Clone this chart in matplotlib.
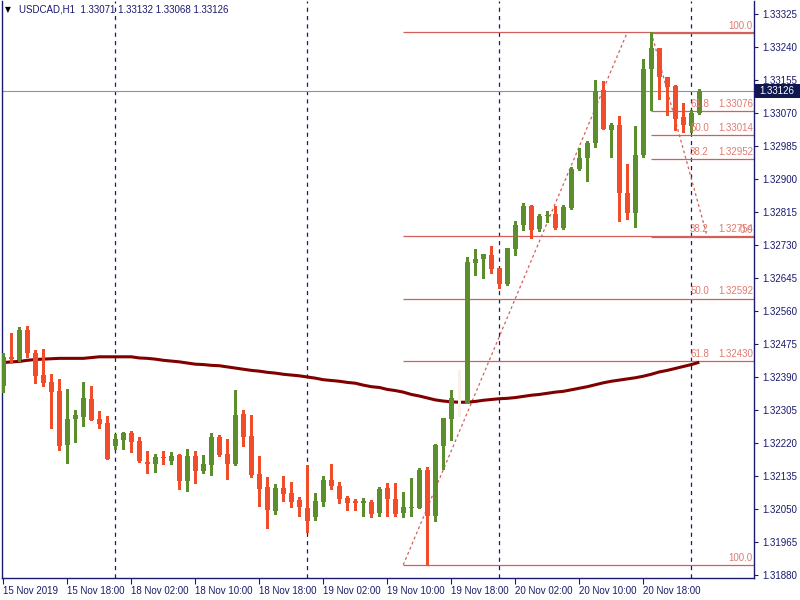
import matplotlib
matplotlib.use('Agg')
import matplotlib.pyplot as plt
from matplotlib.patches import Rectangle

plt.rcParams['font.family'] = ['Liberation Sans', 'DejaVu Sans']
plt.rcParams['lines.scale_dashes'] = False

# ---------------- data (USDCAD H1, 15 Nov 10:00 -> 21 Nov 01:00) ----------------
opens = [1.32368, 1.32441, 1.32434, 1.32511, 1.32451, 1.32395, 1.32377, 1.32354, 1.32215, 1.32282,
         1.32288, 1.32333, 1.32282, 1.32272, 1.32213, 1.32228, 1.32246, 1.32225, 1.32171, 1.32167,
         1.32184, 1.32174, 1.32189, 1.32123, 1.32186, 1.32149, 1.32164, 1.32235, 1.32192, 1.32167,
         1.32295, 1.32238, 1.32140, 1.32107, 1.32045, 1.32104, 1.32091, 1.32073, 1.32052, 1.32030,
         1.32069, 1.32125, 1.32109, 1.32078, 1.32070, 1.32066, 1.32068, 1.32040, 1.32104, 1.32076,
         1.32040, 1.32053, 1.32053, 1.32150, 1.32033, 1.32213, 1.32282, 1.32336, 1.32324, 1.32684,
         1.32694, 1.32704, 1.32671, 1.32630, 1.32720, 1.32781, 1.32830, 1.32771, 1.32805, 1.32810,
         1.32774, 1.32826, 1.32925, 1.32953, 1.32992, 1.33129, 1.33027, 1.33038, 1.32865, 1.32813,
         1.32962, 1.33183, 1.33237, 1.33163, 1.33140, 1.33060, 1.33037, 1.33071]
highs = [1.32451, 1.32504, 1.32520, 1.32521, 1.32460, 1.32462, 1.32398, 1.32384, 1.32359, 1.32305,
         1.32377, 1.32367, 1.32302, 1.32290, 1.32242, 1.32249, 1.32251, 1.32235, 1.32199, 1.32191,
         1.32199, 1.32196, 1.32191, 1.32204, 1.32199, 1.32189, 1.32246, 1.32240, 1.32230, 1.32356,
         1.32305, 1.32292, 1.32186, 1.32132, 1.32114, 1.32135, 1.32119, 1.32081, 1.32163, 1.32091,
         1.32135, 1.32166, 1.32119, 1.32083, 1.32076, 1.32078, 1.32073, 1.32107, 1.32117, 1.32117,
         1.32094, 1.32130, 1.32155, 1.32158, 1.32217, 1.32285, 1.32356, 1.32408, 1.32698, 1.32720,
         1.32708, 1.32727, 1.32672, 1.32723, 1.32792, 1.32839, 1.32833, 1.32810, 1.32818, 1.32830,
         1.32833, 1.32932, 1.32979, 1.32999, 1.33155, 1.33152, 1.33045, 1.33062, 1.32939, 1.33036,
         1.33208, 1.33278, 1.33238, 1.33164, 1.33141, 1.33096, 1.33078, 1.33132]
lows = [1.32352, 1.32425, 1.32432, 1.32441, 1.32375, 1.32368, 1.32259, 1.32202, 1.32169, 1.32222,
        1.32264, 1.32278, 1.32258, 1.32178, 1.32205, 1.32205, 1.32198, 1.32172, 1.32143, 1.32146,
        1.32167, 1.32167, 1.32102, 1.32097, 1.32118, 1.32143, 1.32138, 1.32186, 1.32128, 1.32164,
        1.32213, 1.32133, 1.32058, 1.32002, 1.32038, 1.32071, 1.32056, 1.32033, 1.31991, 1.32022,
        1.32058, 1.32102, 1.32066, 1.32048, 1.32048, 1.32033, 1.32030, 1.32033, 1.32033, 1.32033,
        1.32030, 1.32033, 1.32052, 1.31906, 1.32020, 1.32154, 1.32228, 1.32290, 1.32322, 1.32653,
        1.32646, 1.32658, 1.32619, 1.32627, 1.32704, 1.32769, 1.32748, 1.32766, 1.32789, 1.32771,
        1.32771, 1.32823, 1.32924, 1.32896, 1.32983, 1.33028, 1.32957, 1.32792, 1.32798, 1.32776,
        1.32957, 1.33079, 1.33107, 1.33066, 1.33026, 1.33021, 1.33021, 1.33068]
closes = [1.32442, 1.32436, 1.32511, 1.32451, 1.32393, 1.32375, 1.32352, 1.32213, 1.32282, 1.32292,
          1.32336, 1.32280, 1.32270, 1.32180, 1.32230, 1.32246, 1.32223, 1.32174, 1.32167, 1.32184,
          1.32181, 1.32186, 1.32123, 1.32186, 1.32149, 1.32166, 1.32235, 1.32189, 1.32167, 1.32292,
          1.32236, 1.32138, 1.32102, 1.32048, 1.32104, 1.32089, 1.32069, 1.32056, 1.32020, 1.32070,
          1.32125, 1.32110, 1.32076, 1.32066, 1.32066, 1.32070, 1.32038, 1.32101, 1.32076, 1.32038,
          1.32055, 1.32055, 1.32150, 1.32033, 1.32215, 1.32284, 1.32336, 1.32336, 1.32686, 1.32694,
          1.32707, 1.32668, 1.32630, 1.32722, 1.32781, 1.32830, 1.32769, 1.32805, 1.32807, 1.32774,
          1.32827, 1.32925, 1.32954, 1.32992, 1.33126, 1.33030, 1.33038, 1.32865, 1.32813, 1.32962,
          1.33183, 1.33237, 1.33163, 1.33138, 1.33055, 1.33040, 1.33070, 1.33126]
ma = [1.32427, 1.32429, 1.32430, 1.32433, 1.32435, 1.32436, 1.32437, 1.32438, 1.32438, 1.32438,
      1.32438, 1.32440, 1.32442, 1.32442, 1.32442, 1.32442, 1.32442, 1.32439, 1.32438, 1.32436,
      1.32433, 1.32431, 1.32429, 1.32426, 1.32423, 1.32422, 1.32420, 1.32419, 1.32416, 1.32413,
      1.32410, 1.32407, 1.32405, 1.32402, 1.32400, 1.32397, 1.32395, 1.32393, 1.32390, 1.32387,
      1.32383, 1.32381, 1.32379, 1.32376, 1.32374, 1.32369, 1.32365, 1.32363, 1.32358, 1.32355,
      1.32351, 1.32345, 1.32341, 1.32336, 1.32331, 1.32328, 1.32326, 1.32325, 1.32325, 1.32327,
      1.32330, 1.32332, 1.32334, 1.32335, 1.32337, 1.32340, 1.32343, 1.32345, 1.32348, 1.32351,
      1.32353, 1.32357, 1.32361, 1.32365, 1.32370, 1.32375, 1.32379, 1.32382, 1.32385, 1.32388,
      1.32392, 1.32397, 1.32403, 1.32407, 1.32412, 1.32417, 1.32422, 1.32428]

time_tick_idx = [0, 8, 16, 24, 32, 40, 48, 56, 64, 72, 80]
time_labels = ['15 Nov 2019', '15 Nov 18:00', '18 Nov 02:00', '18 Nov 10:00', '18 Nov 18:00',
               '19 Nov 02:00', '19 Nov 10:00', '19 Nov 18:00', '20 Nov 02:00', '20 Nov 10:00',
               '20 Nov 18:00']
day_separators = [14, 38, 62, 86]
price_ticks = [1.33325, 1.33240, 1.33155, 1.33070, 1.32985, 1.32900, 1.32815, 1.32730, 1.32645,
               1.32560, 1.32475, 1.32390, 1.32305, 1.32220, 1.32135, 1.32050, 1.31965, 1.31880]
price_tick_labels = ['%.5f' % v for v in price_ticks]

header = 'USDCAD,H1  1.33071 1.33132 1.33068 1.33126'
bid = 1.33126

fib_levels = [0.0, 38.2, 50.0, 61.8, 100.0]
# fib1: low -> high (0.0 label hidden under fib2's 100.0 label in the reference)
fib1 = dict(p100=1.31906, p0=1.33278, x100=50, x0=78, xstart=50, hide=[0.0])
fib2 = dict(p100=1.33277, p0=1.32751, x100=81, x0=88, xstart=81, hide=[])

# ---------------- styles ----------------
GREEN = '#5b8e2c'
RED = '#f24d2b'
DOJI = '#fbf0e8'
NAVY = '#1a1a6e'
FIB = '#d2605a'
FIBTXT = '#e27a70'
MA_C = '#800000'

fig = plt.figure(figsize=(8, 6), dpi=100)
W, H = 800, 600
ax = fig.add_axes([2 / W, 22 / H, 752 / W, 577 / H])
ax.set_xlim(-0.1625, 93.8375)
ax.set_ylim(1.318722, 1.333585)

# day separators
for k in day_separators:
    ax.axvline(k, color=NAVY, lw=0.9, linestyle=(0, (3, 3)), zorder=1)

# fib objects
for fb in (fib1, fib2):
    rng = fb['p100'] - fb['p0']
    for lv in fib_levels:
        p = fb['p0'] + rng * lv / 100.0
        ax.hlines(p, fb['xstart'], 93.8375, color=FIB, lw=0.9, zorder=2)
        if lv in fb['hide']:
            continue
        if lv in (0.0, 100.0):
            ax.annotate('%.1f' % lv, xy=(93.7, p), xytext=(0, 1.5), textcoords='offset points',
                        ha='right', va='bottom', fontsize=7, color=FIBTXT, zorder=6)
        else:
            ax.annotate('%.1f' % lv, xy=(85.85, p), xytext=(0, 1.5), textcoords='offset points',
                        ha='left', va='bottom', fontsize=7, color=FIBTXT, zorder=6)
            ax.annotate('%.5f' % p, xy=(93.7, p), xytext=(0, 1.5), textcoords='offset points',
                        ha='right', va='bottom', fontsize=7, color=FIBTXT, zorder=6)
    ax.plot([fb['x100'], fb['x0']], [fb['p100'], fb['p0']], color=FIB, lw=0.9,
            linestyle=(0, (2, 2)), zorder=2)

# bid line
ax.axhline(bid, color='#8a939b', lw=0.8, zorder=2)

# moving average
ax.plot(range(len(ma)), ma, color=MA_C, lw=2.2, zorder=3, solid_capstyle='butt')

# candles
onepx = (1.333585 - 1.318722) / 577
for k in range(len(opens)):
    o, h, l, c = opens[k], highs[k], lows[k], closes[k]
    if c > o:
        col = GREEN
    elif c < o:
        col = RED
    else:
        col = DOJI
    ax.vlines(k, l, h, color=col, lw=0.8, zorder=4, antialiased=False)
    bot = min(o, c)
    hgt = max(abs(c - o), onepx)
    ax.add_patch(Rectangle((k - 0.31, bot), 0.62, hgt, facecolor=col, edgecolor='none',
                           zorder=5, antialiased=False))

# axes style
ax.spines['top'].set_visible(False)
for s in ('left', 'right', 'bottom'):
    ax.spines[s].set_color(NAVY)
    ax.spines[s].set_linewidth(1.0)

ax.yaxis.tick_right()
ax.set_yticks(price_ticks)
ax.set_yticklabels(price_tick_labels)
ax.tick_params(axis='y', direction='out', length=3, width=0.8, color=NAVY, labelcolor=NAVY,
               labelsize=7, pad=3)
ax.set_xticks(time_tick_idx)
ax.set_xticklabels(time_labels)
for t in ax.get_xticklabels():
    t.set_ha('left')
ax.tick_params(axis='x', direction='out', length=4, width=0.8, color=NAVY, labelcolor=NAVY,
               labelsize=7, pad=2)

# header
fig.text(5 / W, 1 - 10 / H, '\u25bc', fontsize=5.5, color='#000000', va='center', ha='left',
         family='DejaVu Sans')
fig.text(19 / W, 1 - 10 / H, header, fontsize=7, color=NAVY, va='center', ha='left')

# bid box
fig.patches.append(Rectangle((755 / W, 1 - 98 / H), 45 / W, 14 / H, transform=fig.transFigure,
                             facecolor='#10184f', edgecolor='none'))
fig.text(777 / W, 1 - 91 / H, '%.5f' % bid, fontsize=7, color='white', va='center', ha='center')

fig.savefig('out.png', dpi=100)
